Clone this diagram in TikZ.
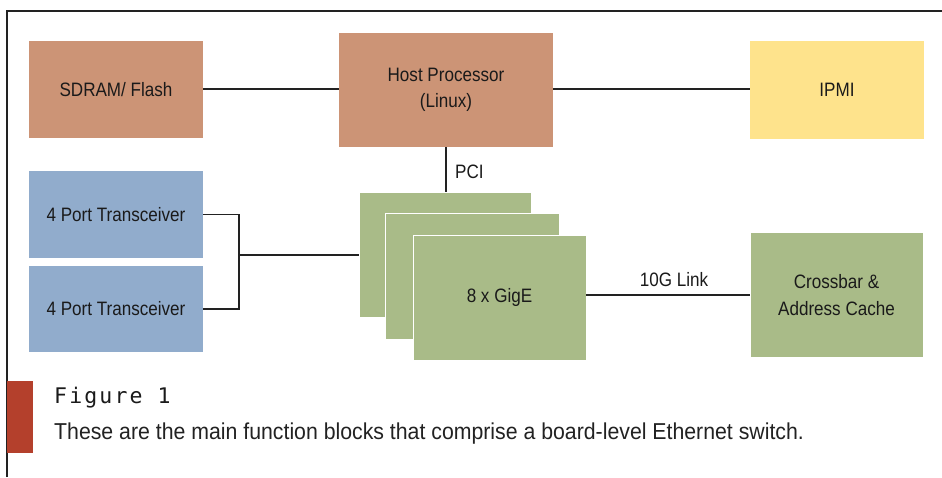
\documentclass[tikz,border=0pt]{standalone}
\usepackage{fontspec}
\setmainfont{Liberation Sans}
\newfontfamily\condfont[FakeStretch=0.88]{Liberation Sans}
\newfontfamily\capfont[FakeStretch=0.925]{Liberation Sans}
\newfontfamily\figfont[LetterSpace=10]{DejaVu Sans Mono}
\definecolor{brownbox}{RGB}{204,148,118}
\definecolor{yellowbox}{RGB}{254,227,140}
\definecolor{bluebox}{RGB}{145,172,204}
\definecolor{greenbox}{RGB}{169,187,136}
\definecolor{redbar}{RGB}{180,64,44}
\definecolor{inkc}{RGB}{26,26,26}
\definecolor{linec}{RGB}{34,34,34}
\begin{document}
\begin{tikzpicture}[x=1pt,y=-1pt,
  blk/.style={rectangle,inner sep=0pt,align=center,text=inkc,
    font=\condfont\fontsize{19.4}{26.5}\selectfont},
  greenblk/.style={blk,fill=greenbox,draw=white,line width=0.9pt},
  conn/.style={draw=linec,line width=1.1pt},
  lbl/.style={inner sep=0pt,text=inkc,font=\condfont\fontsize{19.4}{22}\selectfont}]
\useasboundingbox (0,0) rectangle (942,477);
\fill[white] (0,0) rectangle (942,477);
% frame
\draw[linec,line width=1.5pt] (7,477) -- (7,11) -- (942,11);
% top row
\node[blk,fill=brownbox,minimum width=174pt,minimum height=97pt] (sdram) at (116,89.5) {SDRAM/ Flash};
\node[blk,fill=brownbox,minimum width=214pt,minimum height=114pt] (host) at (446,90) {Host Processor\\(Linux)};
\node[blk,fill=yellowbox,minimum width=174pt,minimum height=98pt] (ipmi) at (837,90) {IPMI};
% transceivers
\node[blk,fill=bluebox,minimum width=174pt,minimum height=87pt] (t1) at (116,214.5) {4 Port Transceiver};
\node[blk,fill=bluebox,minimum width=174pt,minimum height=86pt] (t2) at (116,309) {4 Port Transceiver};
% GigE stack
\node[greenblk,minimum width=172pt,minimum height=125pt] (back) at (445,254.5) {};
\node[greenblk,minimum width=174pt,minimum height=126pt] (mid) at (472,276) {};
\node[greenblk,minimum width=173pt,minimum height=125pt] (front) at (499.5,297.5) {8 x GigE};
% crossbar
\node[greenblk,minimum width=173pt,minimum height=125pt] (xbar) at (836.5,295) {Crossbar \&\\Address Cache};
% connectors
\draw[conn] (sdram.east |- 0,89) -- (host.west |- 0,89);
\draw[conn] (host.east |- 0,89) -- (ipmi.west |- 0,89);
\draw[conn] (host.south) -- (host.south |- back.north);
\node[lbl,anchor=west] (pci) at (455,172) {PCI};
\coordinate (j) at (239,255);
\draw[conn] (t1.east) -| (j) |- (t2.east);
\draw[conn] (j) -- (j -| back.west);
\draw[conn] (front.east |- xbar.west) -- (xbar.west);
\node[lbl] (link) at (674,280) {10G Link};
% caption
\fill[redbar] (7,381) rectangle (33,453);
\node[inner sep=0pt,anchor=base west,text=inkc,font=\figfont\fontsize{21.5}{24}\selectfont] (fig) at (54,403) {Figure 1};
\node[inner sep=0pt,anchor=base west,text=linec,font=\capfont\fontsize{23}{26}\selectfont] (cap) at (54,439) {These are the main function blocks that comprise a board-level Ethernet switch.};
\end{tikzpicture}
\end{document}
